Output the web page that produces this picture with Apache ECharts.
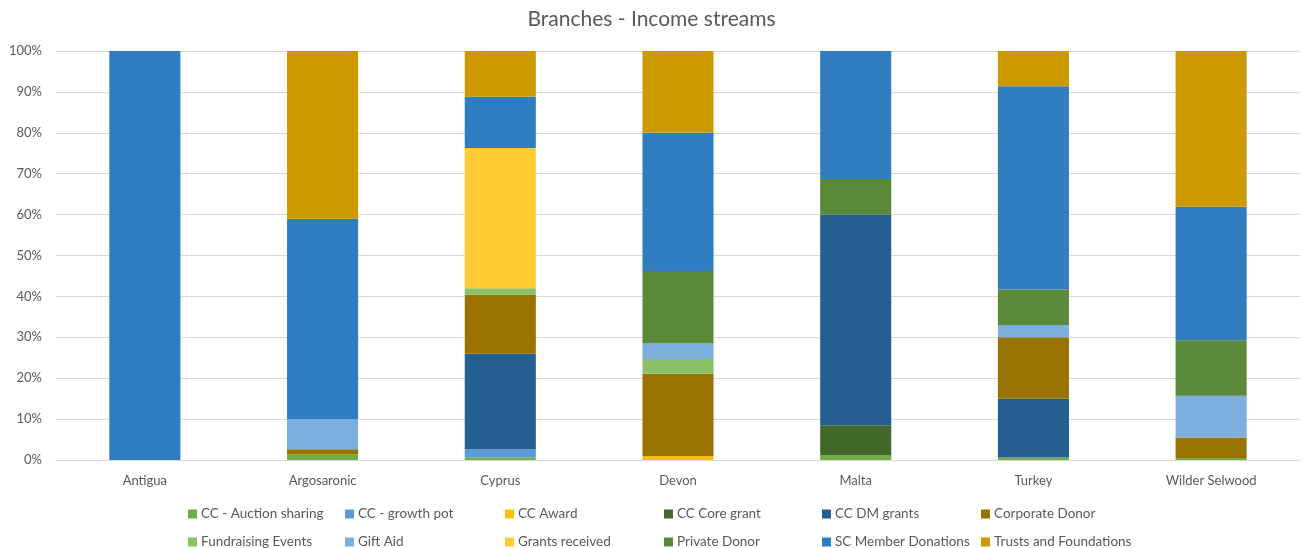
<!DOCTYPE html>
<html>
<head>
<meta charset="utf-8">
<script src="https://cdn.jsdelivr.net/npm/echarts@6/dist/echarts.min.js"></script>
<style>
  html, body { margin: 0; padding: 0; background: #fff; }
  #chart { width: 1303px; height: 548px; }
</style>
</head>
<body>
<div id="chart"></div>
<script>
// Branch names along the x axis
const branches = ['Antigua', 'Argosaronic', 'Cyprus', 'Devon', 'Malta', 'Turkey', 'Wilder Selwood'];

// Share of each income stream per branch (%)
const ccAuctionSharing   = [0, 1.4, 0.6, 0, 1.2, 0.6, 0.5];
const ccGrowthPot        = [0, 0, 2.0, 0, 0, 0, 0];
const ccAward            = [0, 0, 0, 0.9, 0, 0, 0];
const ccCoreGrant        = [0, 0, 0, 0, 7.3, 0, 0];
const ccDmGrants         = [0, 0, 23.4, 0, 51.5, 14.4, 0];
const corporateDonor     = [0, 1.2, 14.4, 20.2, 0, 15.0, 5.0];
const fundraisingEvents  = [0, 0, 1.6, 3.6, 0, 0, 0];
const giftAid            = [0, 7.4, 0, 3.8, 0, 3.0, 10.2];
const grantsReceived     = [0, 0, 34.3, 0, 0, 0, 0];
const privateDonor       = [0, 0, 0, 17.7, 8.7, 8.7, 13.6];
const scMemberDonations  = [100, 49.0, 12.5, 33.8, 31.3, 49.7, 32.6];
const trustsFoundations  = [0, 41.0, 11.2, 20.0, 0, 8.6, 38.1];

// y axis ticks (%)
const yTicks = [0, 10, 20, 30, 40, 50, 60, 70, 80, 90, 100];

const streams = [
  { name: 'CC - Auction sharing',   data: ccAuctionSharing,  color: '#70AD47' },
  { name: 'CC - growth pot',        data: ccGrowthPot,       color: '#5B9BD5' },
  { name: 'CC Award',               data: ccAward,           color: '#FFC000' },
  { name: 'CC Core grant',          data: ccCoreGrant,       color: '#43682B' },
  { name: 'CC DM grants',           data: ccDmGrants,        color: '#255E91' },
  { name: 'Corporate Donor',        data: corporateDonor,    color: '#997300' },
  { name: 'Fundraising Events',     data: fundraisingEvents, color: '#8CC168' },
  { name: 'Gift Aid',               data: giftAid,           color: '#7CAFDD' },
  { name: 'Grants received',        data: grantsReceived,    color: '#FFCD33' },
  { name: 'Private Donor',          data: privateDonor,      color: '#5A8A39' },
  { name: 'SC Member Donations',    data: scMemberDonations, color: '#317DC2' },
  { name: 'Trusts and Foundations', data: trustsFoundations, color: '#CC9A00' }
];

const FONT = 'Lato, "Liberation Sans", sans-serif';
const TEXT = '#595959';

// Legend laid out as a 6-column x 2-row grid, one legend per entry
const legendCols = [188, 345, 505, 664, 822, 981];
const legendRows = [507, 535];
const legends = streams.map((s, i) => ({
  left: legendCols[i % 6],
  top: legendRows[Math.floor(i / 6)],
  padding: 0,
  itemWidth: 9,
  itemHeight: 9,
  icon: 'rect',
  selectedMode: false,
  data: [s.name],
  textStyle: { fontFamily: FONT, fontSize: 13.5, color: TEXT, padding: [0, 0, 0, -1] }
}));

const chart = echarts.init(document.getElementById('chart'), null, { renderer: 'canvas' });
chart.setOption({
  animation: false,
  backgroundColor: '#ffffff',
  title: {
    text: 'Branches - Income streams',
    left: 'center',
    top: 4,
    textStyle: { fontFamily: FONT, fontSize: 21, fontWeight: 'normal', color: TEXT }
  },
  legend: legends,
  grid: { left: 56, right: 3, top: 51, bottom: 88, containLabel: false },
  xAxis: {
    type: 'category',
    data: branches,
    axisLine: { show: true, lineStyle: { color: '#D9D9D9', width: 1 } },
    axisTick: { show: false },
    axisLabel: { fontFamily: FONT, fontSize: 13, color: TEXT, margin: 14 }
  },
  yAxis: {
    type: 'value',
    min: yTicks[0],
    max: yTicks[yTicks.length - 1],
    interval: yTicks[1] - yTicks[0],
    axisLine: { show: false },
    axisTick: { show: false },
    splitLine: { lineStyle: { color: '#D9D9D9', width: 1 } },
    axisLabel: { fontFamily: FONT, fontSize: 13, color: TEXT, margin: 14, formatter: '{value}%' }
  },
  series: streams.map(s => ({
    name: s.name,
    type: 'bar',
    stack: 'total',
    barWidth: '40%',
    data: s.data,
    itemStyle: { color: s.color }
  }))
});
</script>
</body>
</html>
